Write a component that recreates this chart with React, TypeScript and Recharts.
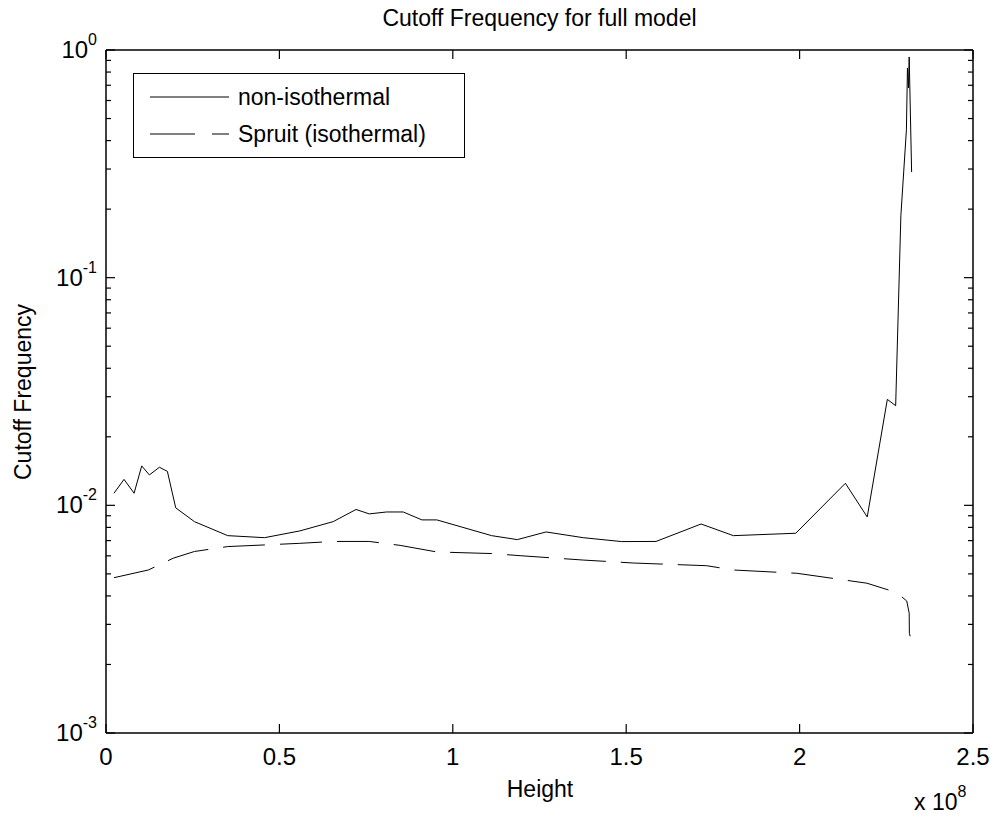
import React from 'react'
import { LineChart, Line, XAxis, YAxis, Legend, ReferenceLine } from 'recharts'

// heights in metres, frequencies
const heightNonIso = [
  2.3e6, 5.2e6, 8.1e6, 10.3e6, 12.5e6, 15.4e6, 17.7e6, 20.1e6, 25.5e6, 35.1e6,
  45.7e6, 55.9e6, 65.5e6, 72.1e6, 75.9e6, 80.9e6, 85.7e6, 91.1e6, 95.4e6, 111.2e6,
  118.6e6, 126.9e6, 137.6e6, 148.7e6, 158.6e6, 171.6e6, 180.9e6, 198.9e6, 213.2e6, 219.5e6,
  225.3e6, 227.7e6, 229.2e6, 230.8e6, 231.1e6, 231.4e6, 231.6e6, 232.3e6,
]
const freqNonIso = [
  0.0113, 0.0130, 0.0113, 0.0149, 0.0136, 0.0147, 0.0141, 0.00975, 0.00848, 0.00736,
  0.00721, 0.00772, 0.00848, 0.00959, 0.00917, 0.00935, 0.00935, 0.00863, 0.00863, 0.00736,
  0.00707, 0.00764, 0.00721, 0.00693, 0.00694, 0.00828, 0.00736, 0.00754, 0.0125, 0.00889,
  0.0292, 0.0274, 0.187, 0.446, 0.834, 0.681, 0.932, 0.291,
]

const heightSpruit = [
  2.3e6, 12.2e6, 19.4e6, 25.5e6, 35.1e6, 45.7e6, 55.9e6, 65.5e6, 75.9e6, 84.8e6,
  95.4e6, 111.2e6, 119.4e6, 137.6e6, 152.1e6, 173.2e6, 180.9e6, 199.2e6, 219.4e6, 225.6e6,
  229.4e6, 230.9e6, 231.6e6, 231.65e6, 232.1e6,
]
const freqSpruit = [
  0.00481, 0.0052, 0.00586, 0.00627, 0.00659, 0.0067, 0.00681, 0.00694, 0.00694, 0.00667,
  0.00624, 0.00614, 0.00601, 0.00575, 0.00558, 0.00543, 0.0052, 0.00503, 0.00455, 0.00425,
  0.00397, 0.0038, 0.00336, 0.00274, 0.00259,
]

const xTicks = [0, 0.5e8, 1e8, 1.5e8, 2e8, 2.5e8]
const xTickLabels = ['0', '0.5', '1', '1.5', '2', '2.5']
const yMajor = [0.001, 0.01, 0.1, 1]
const yExponents = ['-3', '-2', '-1', '0']
const yMinor: number[] = []
for (let d = -3; d < 0; d++) for (let k = 2; k < 10; k++) yMinor.push(k * Math.pow(10, d))

const nonIsoData = heightNonIso.map((h, i) => ({ h, f: freqNonIso[i] }))
const spruitData = heightSpruit.map((h, i) => ({ h, f: freqSpruit[i] }))

const LEFT = 106
const RIGHT = 973
const TOP = 50
const BOTTOM = 733
const FONT = '"Liberation Sans", Arial, Helvetica, sans-serif'

const YTick = (props: any) => {
  const { y, payload } = props
  const idx = yMajor.findIndex(v => Math.abs(v - payload.value) < payload.value * 1e-6)
  const len = idx >= 0 ? 9 : 5
  return <g>
    <line x1={LEFT} x2={LEFT + len} y1={y} y2={y} stroke="#000" strokeWidth={1.2} />
    <line x1={RIGHT - len} x2={RIGHT} y1={y} y2={y} stroke="#000" strokeWidth={1.2} />
    {idx >= 0 &&
      <text x={97} y={y + 8} textAnchor="end" fontFamily={FONT} fontSize={24} fill="#000">
        10<tspan fontSize={16} dy={-13}>{yExponents[idx]}</tspan>
      </text>}
  </g>
}

const XTick = (props: any) => {
  const { x, payload } = props
  const i = xTicks.indexOf(payload.value)
  return <g>
    <line x1={x} x2={x} y1={BOTTOM} y2={BOTTOM - 9} stroke="#000" strokeWidth={1.2} />
    <line x1={x} x2={x} y1={TOP} y2={TOP + 9} stroke="#000" strokeWidth={1.2} />
    <text x={x} y={765} textAnchor="middle" fontFamily={FONT} fontSize={24} fill="#000">{xTickLabels[i]}</text>
  </g>
}

const XLabel = () => <g>
  <text x={540} y={797} textAnchor="middle" fontFamily={FONT} fontSize={23} fill="#000">Height</text>
  <text x={914} y={810} fontFamily={FONT} fontSize={23} fill="#000">
    x 10<tspan fontSize={16} dy={-13}>8</tspan>
  </text>
</g>

const YLabel = () =>
  <text x={31} y={392} transform="rotate(-90, 31, 392)" textAnchor="middle" fontFamily={FONT} fontSize={23} fill="#000">
    Cutoff Frequency
  </text>

const LegendBox = () => <div style={{ border: '1.5px solid #000', background: '#fff', width: 332, height: 85, boxSizing: 'border-box' }}>
  <svg width={329} height={82} style={{ display: 'block' }}>
    <line x1={16} x2={95} y1={23} y2={23} stroke="#000" strokeWidth={1} />
    <text x={104} y={31} fontFamily={FONT} fontSize={23} fill="#000">non-isothermal</text>
    <line x1={16} x2={95} y1={60} y2={60} stroke="#000" strokeWidth={1} strokeDasharray="45 17" />
    <text x={104} y={68} fontFamily={FONT} fontSize={23} fill="#000">Spruit (isothermal)</text>
  </svg>
</div>

const App = () => {
  return <div style={{ position: 'absolute', left: 0, top: 0, width: 995, height: 819, background: '#fff' }}>
    <div style={{ position: 'absolute', left: LEFT, width: RIGHT - LEFT, top: 7, textAlign: 'center', fontFamily: FONT, fontSize: 23, lineHeight: '23px', zIndex: 2 }}>
      Cutoff Frequency for full model
    </div>
    <LineChart width={995} height={819} margin={{ top: TOP, right: 995 - RIGHT, left: 0, bottom: 0 }}>
      <XAxis type="number" dataKey="h" domain={[0, 2.5e8]} ticks={xTicks} interval={0}
        height={819 - BOTTOM} tickLine={false} axisLine={{ stroke: '#000', strokeWidth: 1.5 }}
        tick={<XTick />} label={<XLabel />} allowDataOverflow />
      <YAxis type="number" scale="log" domain={[0.001, 1]} ticks={[...yMajor, ...yMinor]} interval={0}
        width={LEFT} tickLine={false} axisLine={{ stroke: '#000', strokeWidth: 1.5 }}
        tick={<YTick />} label={<YLabel />} allowDataOverflow />
      <ReferenceLine y={1} stroke="#000" strokeWidth={1.5} />
      <ReferenceLine x={2.5e8} stroke="#000" strokeWidth={1.5} />
      <Line data={nonIsoData} dataKey="f" type="linear" stroke="#000" strokeWidth={1} dot={false} isAnimationActive={false} />
      <Line data={spruitData} dataKey="f" type="linear" stroke="#000" strokeWidth={1} strokeDasharray="42 15" dot={false} isAnimationActive={false} />
      <Legend layout="horizontal" verticalAlign="middle" content={<LegendBox />}
        wrapperStyle={{ left: 133, top: 73, width: 'auto' }} />
    </LineChart>
  </div>
}

export default App
